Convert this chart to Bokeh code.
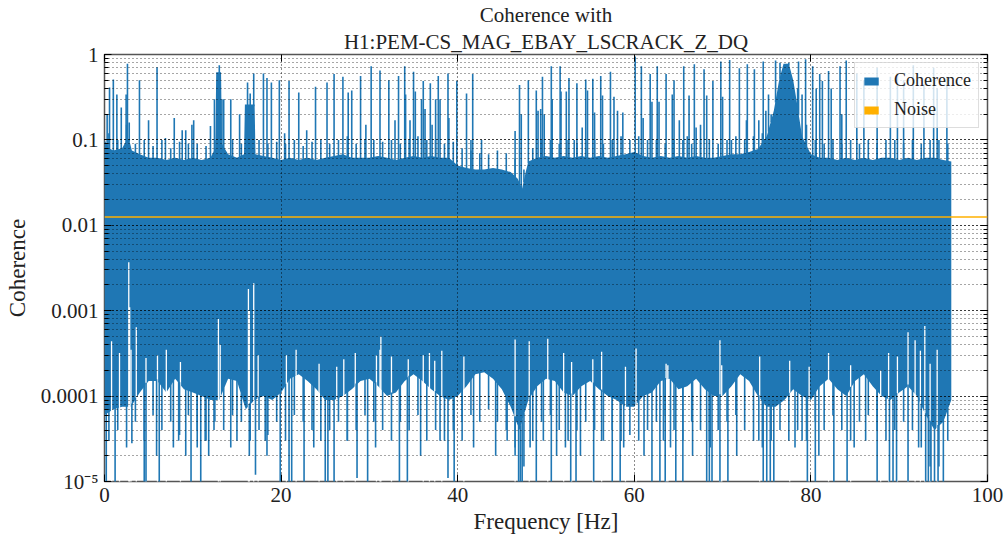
import numpy as np
from bokeh.plotting import figure
from bokeh.models import (Range1d, LogAxis, LinearAxis, FixedTicker, LogTicker,
                          CustomJSTickFormatter, Legend, LegendItem, Title)
from bokeh.embed import file_html
from bokeh.resources import INLINE

# ---------------- data ----------------
title_line1 = "Coherence with"
title_line2 = "H1:PEM-CS_MAG_EBAY_LSCRACK_Z_DQ"
x_label = "Frequency [Hz]"
y_label = "Coherence"
x_ticks = [0, 20, 40, 60, 80, 100]

noise_level = 0.0125

# upper edge of the dense coherence band
band_hi_freq = [0, 0.5, 1, 2, 2.5, 2.8, 3.1, 4, 5, 6, 7, 8, 9, 10, 11, 12, 12.55, 12.65, 13.2,
                13.3, 14, 15, 15.8, 15.9, 17.0, 17.1, 18, 19, 20, 21, 22, 23, 24, 25, 26, 27, 28,
                29, 30, 31, 32, 33, 34, 35, 36, 37, 38, 39, 40, 41, 42, 43, 44, 45, 46, 46.8,
                47.3, 47.7, 48, 49, 50, 51, 52, 53, 54, 55, 56, 57, 58, 59, 60, 61, 62, 63, 64,
                65, 66, 67, 68, 69, 70, 71, 72, 73, 74, 75, 75.8, 76.4, 76.9, 77.5, 78.0, 78.4,
                79, 80, 81, 82, 83, 84, 85, 86, 87, 88, 89, 90, 91, 92, 93, 94, 95, 95.9]
band_hi = [0.10, 0.08, 0.075, 0.08, 0.10, 0.10, 0.075, 0.068, 0.062, 0.062, 0.058, 0.062, 0.058,
           0.062, 0.058, 0.062, 0.08, 0.62, 0.62, 0.09, 0.068, 0.062, 0.068, 0.26, 0.26, 0.068,
           0.065, 0.062, 0.058, 0.062, 0.058, 0.062, 0.058, 0.062, 0.065, 0.068, 0.062, 0.062,
           0.062, 0.065, 0.062, 0.058, 0.062, 0.065, 0.062, 0.065, 0.062, 0.062, 0.05, 0.047,
           0.045, 0.045, 0.047, 0.045, 0.042, 0.035, 0.027, 0.042, 0.056, 0.062, 0.065, 0.062,
           0.065, 0.062, 0.065, 0.062, 0.065, 0.062, 0.065, 0.068, 0.072, 0.065, 0.062, 0.065,
           0.062, 0.065, 0.062, 0.065, 0.062, 0.062, 0.065, 0.068, 0.068, 0.072, 0.078, 0.11,
           0.22, 0.5, 0.78, 0.78, 0.5, 0.28, 0.11, 0.068, 0.062, 0.062, 0.058, 0.062, 0.058,
           0.062, 0.058, 0.062, 0.062, 0.058, 0.062, 0.058, 0.062, 0.062, 0.058, 0.056]

# small ragged peaks on top of the band, one per Hz (at k + 0.5 Hz)
ripple_val = [0.12, 0.10, 0.15, 0.09, 0.10, 0.085, 0.10, 0.08, 0.095, 0.09,
              0.09, 0.085, 0.10, 0.30, 0.10, 0.09, 0.35, 0.10, 0.09, 0.095,
              0.09, 0.10, 0.085, 0.095, 0.10, 0.09, 0.10, 0.11, 0.09, 0.10,
              0.10, 0.095, 0.10, 0.09, 0.10, 0.11, 0.10, 0.10, 0.09, 0.095,
              0.08, 0.075, 0.07, 0.068, 0.075, 0.07, 0.06, 0.045, 0.08, 0.10,
              0.10, 0.09, 0.10, 0.09, 0.10, 0.10, 0.09, 0.10, 0.11, 0.10,
              0.11, 0.10, 0.10, 0.09, 0.10, 0.10, 0.09, 0.10, 0.10, 0.09,
              0.10, 0.11, 0.10, 0.11, 0.12, 0.20, 0.80, 0.80, 0.40, 0.15,
              0.10, 0.09, 0.10, 0.09, 0.10, 0.09, 0.10, 0.09, 0.10, 0.10,
              0.09, 0.10, 0.09, 0.10, 0.10, 0.09]

# lower edge of the dense coherence band (1 Hz steps)
band_lo_freq = list(range(0, 96)) + [95.9]
band_lo = [0.6e-4, 0.7e-4, 0.75e-4, 0.75e-4, 1.1e-4, 1.5e-4, 1.5e-4, 1.1e-4, 1.6e-4, 1.2e-4,
           1.1e-4, 1.0e-4, 0.9e-4, 0.9e-4, 1.6e-4, 1.5e-4, 0.7e-4, 0.9e-4, 1.0e-4, 0.9e-4,
           1.1e-4, 1.6e-4, 1.8e-4, 1.5e-4, 1.2e-4, 0.9e-4, 0.9e-4, 1.0e-4, 1.2e-4, 1.5e-4,
           1.6e-4, 1.3e-4, 1.0e-4, 1.1e-4, 1.5e-4, 1.8e-4, 1.5e-4, 1.2e-4, 1.0e-4, 0.9e-4,
           1.0e-4, 1.3e-4, 1.8e-4, 1.9e-4, 1.6e-4, 1.2e-4, 0.75e-4, 0.4e-4, 0.9e-4, 1.3e-4,
           1.6e-4, 1.5e-4, 1.1e-4, 1.0e-4, 1.3e-4, 1.5e-4, 1.2e-4, 1.0e-4, 0.9e-4, 0.75e-4,
           0.75e-4, 1.0e-4, 1.1e-4, 1.5e-4, 1.6e-4, 1.2e-4, 1.3e-4, 1.6e-4, 1.2e-4, 1.0e-4,
           1.0e-4, 1.3e-4, 1.8e-4, 1.5e-4, 1.0e-4, 0.75e-4, 0.75e-4, 0.9e-4, 1.2e-4, 1.0e-4,
           0.9e-4, 1.3e-4, 1.6e-4, 1.2e-4, 1.0e-4, 1.5e-4, 1.8e-4, 1.3e-4, 1.0e-4, 0.9e-4,
           1.1e-4, 1.3e-4, 1.0e-4, 0.6e-4, 0.4e-4, 0.5e-4, 0.9e-4]

# ragged fringe below the band, one per Hz (at k + 0.5 Hz)
fringe_val = [3e-5, 4e-5, 2.5e-5, 5e-5, 3e-5, 6e-5, 4e-5, 5e-5, 3.5e-5, 6e-5,
              4e-5, 3e-5, 5e-5, 4e-5, 6e-5, 5e-5, 3e-5, 4e-5, 3.5e-5, 5e-5,
              3e-5, 6e-5, 5e-5, 4e-5, 3e-5, 4e-5, 5e-5, 3e-5, 4e-5, 6e-5,
              5e-5, 4e-5, 3e-5, 5e-5, 4e-5, 6e-5, 3e-5, 4e-5, 3e-5, 4e-5,
              5e-5, 6e-5, 5e-5, 7e-5, 5e-5, 4e-5, 2.5e-5, 1.5e-5, 3e-5, 5e-5,
              6e-5, 4e-5, 3e-5, 4e-5, 5e-5, 4e-5, 3e-5, 4e-5, 3e-5, 3.5e-5,
              3e-5, 4e-5, 5e-5, 6e-5, 4e-5, 3e-5, 5e-5, 4e-5, 3e-5, 4e-5,
              5e-5, 6e-5, 4e-5, 3e-5, 2.5e-5, 3e-5, 4e-5, 3e-5, 4e-5, 3e-5,
              5e-5, 4e-5, 6e-5, 4e-5, 3e-5, 5e-5, 6e-5, 4e-5, 3e-5, 4e-5,
              5e-5, 4e-5, 2.5e-5, 1.5e-5, 1.5e-5, 3e-5]

# narrow coherence peaks above the band
spike_freq = [0.3, 0.57, 1.0, 1.4, 1.9, 2.45, 2.6, 2.8, 3.96, 4.99, 5.95, 6.9, 7.9, 8.8, 9.2, 9.9,
              10.1, 12.0, 12.45, 13.0, 13.3, 14.3, 15.3, 16.2, 16.9, 18.0, 18.4, 18.9, 19.8, 20.4,
              20.9, 22.0, 22.9, 23.9, 25.2, 26.0, 27.0, 27.6, 28.0, 29.0, 29.6, 30.2, 31.2, 32.2,
              32.9, 33.3, 34.0, 34.1, 34.6, 35.0, 35.2, 35.9, 36.1, 36.3, 36.9, 37.1, 37.5, 37.8,
              38.0, 38.9, 39.0, 39.9, 41.0, 41.5, 41.7, 42.7, 46.5, 47.0, 47.2, 48.0, 48.9, 49.1,
              49.4, 49.6, 49.8, 50.6, 50.7, 51.6, 51.7, 52.3, 52.6, 53.2, 53.5, 54.1, 54.5, 54.7,
              55.3, 55.5, 56.2, 56.4, 57.3, 57.7, 58.1, 58.7, 60.1, 60.8, 61.0, 61.8, 62.0, 62.6,
              62.8, 63.6, 64.3, 64.5, 65.1, 65.6, 66.0, 66.2, 66.8, 67.0, 67.5, 67.9, 68.2, 68.9,
              69.8, 70.0, 70.8, 71.0, 71.9, 72.7, 72.8, 73.6, 74.1, 74.6, 74.9, 75.2, 76.0, 78.6,
              79.0, 79.4, 80.2, 80.6, 81.0, 81.3, 82.0, 82.3, 83.3, 83.5, 84.0, 85.2, 86.0, 87.5,
              89.0, 89.8, 90.5, 91.6, 92.8, 93.9, 94.3, 95.4]
spike_val = [0.20, 0.41, 0.51, 0.34, 0.24, 0.34, 0.78, 0.16, 0.50, 0.17, 0.71, 0.105, 0.18, 0.13,
             0.13, 0.15, 0.17, 0.145, 0.30, 0.75, 0.30, 0.30, 0.20, 0.47, 0.60, 0.60, 0.53, 0.47,
             0.50, 0.12, 0.49, 0.36, 0.13, 0.42, 0.47, 0.59, 0.55, 0.36, 0.38, 0.56, 0.15, 0.73,
             0.65, 0.50, 0.17, 0.56, 0.73, 0.34, 0.17, 0.63, 0.37, 0.30, 0.49, 0.23, 0.46, 0.15,
             0.30, 0.56, 0.30, 0.60, 0.18, 0.49, 0.35, 0.10, 0.59, 0.10, 0.127, 0.44, 0.20, 0.50,
             0.38, 0.22, 0.23, 0.55, 0.20, 0.73, 0.30, 0.73, 0.37, 0.37, 0.53, 0.10, 0.46, 0.14,
             0.51, 0.38, 0.52, 0.21, 0.56, 0.33, 0.63, 0.32, 0.22, 0.21, 0.95, 0.73, 0.18, 0.59,
             0.28, 0.73, 0.28, 0.59, 0.34, 0.50, 0.17, 0.73, 0.11, 0.33, 0.77, 0.14, 0.15, 0.67,
             0.33, 0.49, 0.83, 0.32, 0.86, 0.10, 0.69, 0.17, 0.77, 0.67, 0.17, 0.83, 0.22, 0.34,
             0.85, 0.83, 0.34, 0.88, 0.73, 0.40, 0.59, 0.49, 0.64, 0.40, 0.73, 0.20, 0.85, 0.60,
             0.50, 0.70, 0.55, 0.60, 0.50, 0.75, 0.45, 0.70, 0.40, 0.55]

# deep minima below the band
dip_freq = [0.2, 1.2, 3.1, 4.5, 4.7, 5.9, 6.2, 7.8, 8.4, 9.2, 9.8, 10.5, 10.9, 11.4, 11.8, 12.4,
            14.3, 15.0, 16.4, 17.1, 18.2, 18.4, 19.9, 20.9, 21.2, 22.6, 23.7, 25.0, 25.3, 26.0,
            27.5, 28.6, 29.8, 30.7, 33.4, 34.3, 35.8, 38.0, 38.9, 39.6, 40.5, 41.8, 44.3, 45.6,
            46.5, 46.9, 47.1, 47.3, 48.2, 48.9, 49.7, 50.6, 51.2, 52.2, 52.8, 53.4, 53.9, 55.4,
            56.3, 57.5, 58.4, 58.8, 61.1, 62.0, 62.9, 63.3, 63.5, 64.1, 64.7, 65.5, 66.6, 68.2,
            68.5, 68.6, 68.8, 69.7, 70.6, 71.6, 74.1, 74.6, 75.0, 75.4, 75.8, 78.2, 79.0, 79.6,
            80.5, 80.9, 82.6, 84.1, 84.9, 86.2, 87.5, 88.9, 89.3, 89.7, 91.0, 92.2, 93.0, 93.3,
            93.6, 94.0, 94.4, 95.0]
dip_val = [1e-5, 1e-5, 2.8e-5, 1e-5, 1e-5, 2e-5, 1e-5, 2.5e-5, 3e-5, 2e-5, 1e-5, 2.5e-5, 1e-5,
           3e-5, 2e-5, 4e-5, 2.5e-5, 3e-5, 2e-5, 1.2e-5, 3e-5, 2e-5, 1e-5, 1e-5, 1e-5, 1e-5,
           2.5e-5, 1e-5, 1e-5, 1e-5, 3e-5, 1.1e-5, 1e-5, 2.5e-5, 1e-5, 1e-5, 2e-5, 3e-5, 1.1e-5,
           1e-5, 3e-5, 2.5e-5, 2e-5, 3e-5, 2e-5, 1e-5, 1e-5, 1e-5, 2.5e-5, 1e-5, 3e-5, 1e-5,
           2e-5, 2.5e-5, 1e-5, 1e-5, 2e-5, 1e-5, 3e-5, 1e-5, 1e-5, 2.5e-5, 2e-5, 1e-5, 1e-5,
           3e-5, 1e-5, 2.5e-5, 1e-5, 1e-5, 2e-5, 1e-5, 1e-5, 2.5e-5, 1e-5, 1e-5, 1e-5, 2e-5,
           3e-5, 1e-5, 1e-5, 1e-5, 1e-5, 2.5e-5, 3e-5, 1e-5, 1e-5, 2e-5, 1e-5, 1e-5, 2.5e-5,
           3e-5, 1e-5, 1e-5, 1e-5, 1e-5, 1e-5, 2.5e-5, 1e-5, 1e-5, 1e-5, 1e-5, 1e-5, 1e-5]

# places where the band's lower edge rises (white gaps)
gap_freq = [0.8, 1.7, 2.75, 2.85, 3.0, 3.6, 4.7, 6.0, 7.0, 8.6, 12.9, 13.1, 16.3, 16.4, 16.9, 17.4,
            20.6, 21.7, 24.3, 26.3, 27.1, 28.4, 30.8, 31.2, 31.3, 32.5, 34.4, 36.1, 36.8, 37.4,
            38.2, 40.7, 46.5, 48.1, 50.2, 52.0, 52.9, 55.3, 56.3, 59.0, 60.2, 63.6, 63.8, 69.7,
            69.9, 74.2, 77.6, 79.8, 82.0, 84.5, 87.9, 88.8, 89.8, 91.0, 91.8, 92.4, 92.9, 93.5,
            94.3]
gap_val = [4.4e-4, 3.2e-4, 3.7e-3, 1.1e-3, 3.5e-4, 6.4e-4, 2.8e-4, 3.0e-4, 3.5e-4, 2.5e-4, 8e-4,
           4e-4, 1.8e-3, 1e-3, 2.1e-3, 3e-4, 3e-4, 3.5e-4, 2.4e-4, 2.2e-4, 2.7e-4, 3.2e-4, 3e-4,
           3.5e-4, 5e-4, 2.9e-4, 2.7e-4, 3e-4, 3.2e-4, 2.6e-4, 3.4e-4, 2.9e-4, 4.6e-4, 4.4e-4,
           4.7e-4, 3.2e-4, 2.5e-4, 2.7e-4, 3.3e-4, 2.2e-4, 3.6e-4, 2.4e-4, 2.3e-4, 4.5e-4,
           2.3e-4, 2.9e-4, 2.6e-4, 2.2e-4, 3.2e-4, 2.3e-4, 2e-4, 3.2e-4, 2.9e-4, 5.6e-4, 4.5e-4,
           3.4e-4, 6.6e-4, 2.4e-4, 3.5e-4]

# ---------------- styling ----------------
BLUE = "#1f77b4"
ORANGE = "#ffb000"
FONT = "Liberation Serif"
Y_MIN, Y_MAX = 1e-5, 1.0
SEG_W = 1.6

p = figure(width=1006, height=539, y_axis_type="log",
           x_range=Range1d(0, 100), y_range=Range1d(Y_MIN, Y_MAX),
           output_backend="svg", toolbar_location=None, title=None,
           min_border_left=104, min_border_right=19, min_border_bottom=58, min_border_top=10)
p.background_fill_color = "white"
p.border_fill_color = "white"
p.outline_line_color = "#555555"
p.outline_line_width = 1.5


def log_interp(f, xp, fp):
    return np.exp(np.interp(f, xp, np.log(fp)))


# band: fill between lower and upper edges on a common frequency grid
grid_f = np.union1d(np.array(band_hi_freq, float), np.array(band_lo_freq, float))
band_r = p.varea(x=grid_f, y1=log_interp(grid_f, band_lo_freq, band_lo),
                 y2=log_interp(grid_f, band_hi_freq, band_hi), fill_color=BLUE)

# white gaps in the lower edge
p.segment(x0=gap_freq, y0=[Y_MIN * 0.9] * len(gap_freq), x1=gap_freq, y1=gap_val,
          line_color="white", line_width=1.3)

# ragged fringe below the band
half_f = np.arange(len(fringe_val)) + 0.5
p.segment(x0=half_f, y0=log_interp(half_f, band_lo_freq, band_lo) * 1.05, x1=half_f,
          y1=fringe_val, line_color=BLUE, line_width=SEG_W)

# deep minima
p.segment(x0=dip_freq, y0=log_interp(dip_freq, band_lo_freq, band_lo) * 1.05, x1=dip_freq,
          y1=[v * 0.9 if v <= Y_MIN else v for v in dip_val], line_color=BLUE, line_width=SEG_W)

# ragged top of the band
p.segment(x0=half_f, y0=log_interp(half_f, band_hi_freq, band_hi) * 0.95, x1=half_f,
          y1=ripple_val, line_color=BLUE, line_width=SEG_W)

# peaks
p.segment(x0=spike_freq, y0=log_interp(spike_freq, band_hi_freq, band_hi) * 0.95, x1=spike_freq,
          y1=spike_val, line_color=BLUE, line_width=SEG_W)

# noise level
p.line(x=[0, 100], y=[noise_level, noise_level], line_color=ORANGE, line_width=1.5)
noise_leg = p.varea(x=[0, 100], y1=[noise_level, noise_level], y2=[noise_level, noise_level],
                    fill_color=ORANGE)

# ---------------- axes ----------------
fmt = CustomJSTickFormatter(code="""
const e = Math.round(Math.log10(tick));
if (e <= -5) { const sup = {'0':'\u2070','1':'\u00b9','2':'\u00b2','3':'\u00b3','4':'\u2074','5':'\u2075','6':'\u2076','7':'\u2077','8':'\u2078','9':'\u2079'};
  return '10\u207b' + String(-e).split('').map(c => sup[c]).join(''); }
if (e >= 0) { return '1'; }
return '0.' + '0'.repeat(-e - 1) + '1';
""")
blank = CustomJSTickFormatter(code="return '';")

yax = p.yaxis[0]
yax.ticker = LogTicker(mantissas=[1], num_minor_ticks=10)
yax.formatter = fmt
xax = p.xaxis[0]
xax.ticker = FixedTicker(ticks=x_ticks, minor_ticks=[])

for ax in (xax, yax):
    ax.axis_line_color = None
    ax.major_tick_in = 7
    ax.major_tick_out = 0
    ax.minor_tick_in = 4
    ax.minor_tick_out = 0
    ax.major_tick_line_color = "black"
    ax.minor_tick_line_color = "black"
    ax.major_label_text_font = FONT
    ax.major_label_text_font_size = "21px"
    ax.major_label_text_color = "#222222"
    ax.axis_label_text_font = FONT
    ax.axis_label_text_font_size = "23px"
    ax.axis_label_text_font_style = "normal"
    ax.axis_label_text_color = "#222222"
xax.axis_label = x_label
yax.axis_label = y_label
xax.major_label_standoff = 6
xax.axis_label_standoff = 4
yax.major_label_standoff = 6
yax.axis_label_standoff = 8

rax = LogAxis(ticker=LogTicker(mantissas=[1], num_minor_ticks=10), formatter=blank,
              axis_line_color=None, major_tick_in=7, major_tick_out=0,
              minor_tick_in=4, minor_tick_out=0, major_label_text_font_size="1px")
p.add_layout(rax, "right")
tax = LinearAxis(ticker=FixedTicker(ticks=x_ticks, minor_ticks=[]), formatter=blank,
                 axis_line_color=None, major_tick_in=7, major_tick_out=0,
                 minor_tick_out=0, major_label_text_font_size="1px", major_label_standoff=0)
p.add_layout(tax, "above")

# grid drawn above the data, dotted
p.xgrid.grid_line_color = "black"
p.xgrid.grid_line_dash = "1 3"
p.xgrid.grid_line_width = 1
p.xgrid.grid_line_alpha = 0.9
p.xgrid.level = "overlay"
p.xgrid.ticker = FixedTicker(ticks=x_ticks)
p.ygrid.grid_line_color = "black"
p.ygrid.grid_line_dash = "1 3"
p.ygrid.grid_line_alpha = 0.9
p.ygrid.minor_grid_line_color = "black"
p.ygrid.minor_grid_line_dash = "1 3"
p.ygrid.minor_grid_line_alpha = 0.7
p.ygrid.level = "overlay"

# titles
t2 = Title(text=title_line2, align="center", text_font=FONT, text_font_size="21px",
           text_font_style="normal", text_color="#222222", standoff=2)
t1 = Title(text=title_line1, align="center", text_font=FONT, text_font_size="21px",
           text_font_style="normal", text_color="#222222", standoff=0)
p.add_layout(t2, "above")
p.add_layout(t1, "above")

# legend
legend = Legend(items=[LegendItem(label="Coherence", renderers=[band_r]),
                       LegendItem(label="Noise", renderers=[noise_leg])],
                location="top_right", margin=8, padding=7, spacing=8,
                glyph_width=18, glyph_height=10, label_standoff=14,
                label_text_font=FONT, label_text_font_size="18px", label_text_color="#222222",
                background_fill_alpha=0.8, border_line_color="#bbbbbb", border_line_width=1.5)
legend.level = "overlay"
p.add_layout(legend, "center")

open("out.html", "w").write(file_html(p, INLINE))
